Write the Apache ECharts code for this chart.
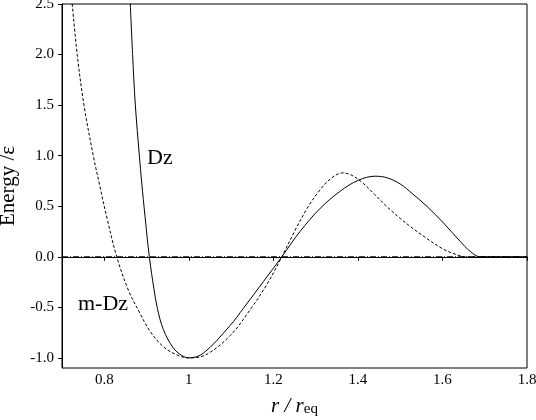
<!DOCTYPE html>
<html>
<head>
<meta charset="utf-8">
<script src="https://cdn.jsdelivr.net/npm/echarts@6/dist/echarts.min.js"></script>
<style>
html,body{margin:0;padding:0;background:#fff;}
#chart{width:536px;height:420px;}
</style>
</head>
<body>
<div id="chart"></div>
<script>
// Dz potential (solid)
var dzR = [0.8605, 0.867, 0.8735, 0.883, 0.8886, 0.8964, 0.9066, 0.9178, 0.9256, 0.9398, 0.963, 0.983, 1.0, 1.034, 1.0976, 1.129, 1.1765, 1.22, 1.263, 1.311, 1.358, 1.401, 1.441, 1.47, 1.50, 1.53, 1.5632, 1.6025, 1.642, 1.6657, 1.689, 1.75, 1.8];
var dzE = [2.6, 2.0, 1.5, 1.0, 0.731, 0.40, 0, -0.327, -0.51, -0.72, -0.90, -0.975, -1.0, -0.955, -0.68, -0.51, -0.245, 0, 0.25, 0.48, 0.648, 0.757, 0.797, 0.78, 0.72, 0.62, 0.499, 0.334, 0.152, 0.053, 0, 0, 0];
// m-Dz potential (dashed)
var mdzR = [0.722, 0.736, 0.752, 0.774, 0.790, 0.806, 0.8295, 0.857, 0.8846, 0.908, 0.9398, 0.9715, 1.0, 1.04, 1.0977, 1.149, 1.188, 1.22, 1.25, 1.28, 1.31, 1.335, 1.3635, 1.3857, 1.41, 1.44, 1.47, 1.50, 1.53, 1.56, 1.60, 1.634, 1.656, 1.75, 1.8];
var mdzE = [2.6, 2.0, 1.5, 1.0, 0.69, 0.39, 0, -0.33, -0.56, -0.735, -0.89, -0.97, -1.0, -0.97, -0.78, -0.5, -0.25, 0, 0.25, 0.48, 0.66, 0.77, 0.83, 0.805, 0.735, 0.615, 0.49, 0.38, 0.28, 0.19, 0.08, 0.02, 0, 0, 0];
// zero reference line
var baseR = [0.7, 1.8];
var baseE = [0, 0];
// tick labels
var xTicks = [0.8, 1.0, 1.2, 1.4, 1.6, 1.8];
var yTicks = [-1.0, -0.5, 0.0, 0.5, 1.0, 1.5, 2.0, 2.5];

function pairs(a, b) { return a.map(function (v, i) { return [v, b[i]]; }); }

var FONT = '"Liberation Serif", "DejaVu Serif", serif';
var chart = echarts.init(document.getElementById('chart'), null, {renderer: 'canvas'});
chart.setOption({
  animation: false,
  backgroundColor: '#fff',
  grid: {left: 62, right: 9, top: 4, bottom: 52, outerBoundsMode: 'none', containLabel: false,
    show: true, borderColor: '#000', borderWidth: 1, backgroundColor: 'transparent'},
  xAxis: {
    type: 'value', min: 0.7, max: 1.8,
    axisLine: {lineStyle: {color: '#000', width: 1}},
    axisTick: {show: true, length: 4, inside: false, customValues: xTicks, lineStyle: {color: '#000'}},
    axisLabel: {customValues: xTicks, color: '#000', fontFamily: FONT, fontSize: 15, margin: 5,
      formatter: function (v) { return String(Math.round(v * 10) / 10); }},
    splitLine: {show: false},
    name: '{i|r}{n| / }{i|r}{s|eq}', nameLocation: 'middle', nameGap: 27,
    nameTextStyle: {
      rich: {
        i: {fontFamily: FONT, fontSize: 21, fontStyle: 'italic', color: '#000', lineHeight: 22},
        n: {fontFamily: FONT, fontSize: 21, fontStyle: 'italic', color: '#000', lineHeight: 22},
        s: {fontFamily: FONT, fontSize: 15, color: '#000', lineHeight: 15, padding: [9, 0, 0, 0], verticalAlign: 'bottom'}
      }
    }
  },
  yAxis: {
    type: 'value', min: -1.1, max: 2.5,
    axisLine: {lineStyle: {color: '#000', width: 1}},
    axisTick: {show: true, length: 4, inside: false, customValues: yTicks, lineStyle: {color: '#000'}},
    axisLabel: {customValues: yTicks, color: '#000', fontFamily: FONT, fontSize: 15, margin: 8,
      formatter: function (v) { return v.toFixed(1); }},
    splitLine: {show: false},
    name: 'Energy /ε', nameLocation: 'middle', nameGap: 40, nameRotate: 90,
    nameTextStyle: {fontFamily: FONT, fontSize: 21, color: '#000'}
  },
  series: [
    {type: 'line', name: 'zero', data: pairs(baseR, baseE), symbol: 'none', silent: true, z: 1,
      lineStyle: {color: '#000', width: 1, type: [6, 2, 1, 2]}},
    {type: 'line', name: 'm-Dz', data: pairs(mdzR, mdzE), symbol: 'none', smooth: 0.35, z: 2,
      lineStyle: {color: '#000', width: 1, type: [3, 2]}},
    {type: 'line', name: 'Dz', data: pairs(dzR, dzE), symbol: 'none', smooth: 0.35, z: 3,
      lineStyle: {color: '#000', width: 1}}
  ],
  graphic: [
    {type: 'text', left: 147, top: 147, style: {text: 'Dz', fontFamily: FONT, fontSize: 22, fill: '#000'}},
    {type: 'text', left: 78, top: 293, style: {text: 'm-Dz', fontFamily: FONT, fontSize: 22, fill: '#000'}}
  ]
});
</script>
</body>
</html>
